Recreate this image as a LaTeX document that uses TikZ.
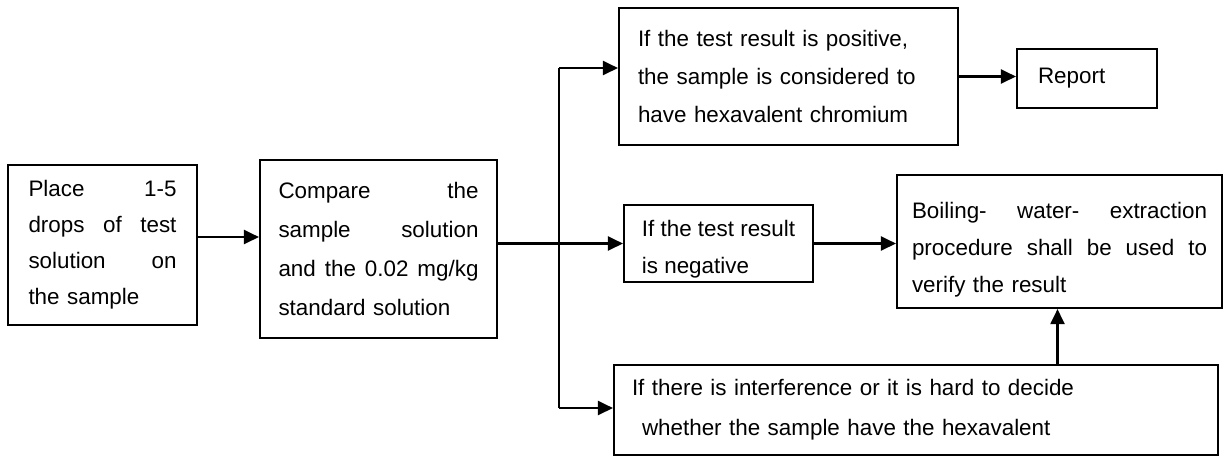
\documentclass[tikz,border=0pt]{standalone}
\usepackage{fontspec}
\setmainfont{Liberation Sans}
\usepackage{tikz}
\usetikzlibrary{arrows.meta}

\begin{document}
\begin{tikzpicture}[x=0.5pt, y=-0.5pt,
  box/.style={rectangle, draw, line width=1.05pt, inner sep=0pt,
    font=\fontsize{11.2}{19}\selectfont},
  arr/.style={-{Triangle[length=7.5pt, width=7pt]}, line width=1.05pt}]
\useasboundingbox (0,0) rectangle (1225,457);

\node[box, minimum width=94.5pt, minimum height=80pt, text width=74pt, align=left,
  font=\fontsize{11.2}{18}\selectfont] (place) at (102.5,245)
  {Place\hfill 1-5\\ drops\hfill of\hfill test\\ solution\hfill on\\ the sample};
\node[box, minimum width=118.5pt, minimum height=89pt, text width=100pt, align=left,
  font=\fontsize{11.2}{19.5}\selectfont] (comp) at (378.5,249)
  {Compare\hfill the\\ sample\hfill solution\\ and\hfill the\hfill 0.02\hfill mg/kg\\ standard solution};
\node[box, minimum width=169.5pt, minimum height=68.5pt, text width=150.5pt, align=left] (pos) at (788.5,76.5)
  {If the test result is positive,\\ the sample is considered to\\ have hexavalent chromium};
\node[box, minimum width=70pt, minimum height=29.5pt, text width=49pt, align=left] (rep) at (1087,78.5)
  {Report};
\node[box, minimum width=94.5pt, minimum height=38.5pt, align=left,
  font=\fontsize{11.2}{18.5}\selectfont] (neg) at (718.5,243.5)
  {\rule{0pt}{14pt}If the test result\\ is negative};
\node[box, minimum width=162.5pt, minimum height=66.5pt, text width=147.5pt, align=left,
  font=\fontsize{11.2}{18.5}\selectfont] (boil) at (1059.5,241.5)
  {\rule{0pt}{16pt}Boiling-\hfill water-\hfill extraction\\ procedure\hfill shall\hfill be\hfill used\hfill to\\ verify the result};
\node[box, minimum width=302pt, minimum height=45pt, text width=284pt, align=left,
  font=\fontsize{11.2}{20}\selectfont] (intf) at (916,410)
  {If there is interference or it is hard to decide\\ \hspace*{5pt}whether the sample have the hexavalent};

\coordinate (top) at (559,68);
\coordinate (bot) at (559,408);

\draw[arr] ([yshift=4pt]place.east) -- ([yshift=4pt]place.east -| comp.west);
\draw[arr] (neg.west -| comp.east) -- (neg.west);
\draw[line width=1.05pt] (top) -- (bot);
\draw[arr] (top) -- (top -| pos.west);
\draw[arr] (bot) -- (bot -| intf.west);
\draw[arr] (pos.east) -- (pos.east -| rep.west);
\draw[arr] (neg.east) -- (neg.east -| boil.west);
\draw[arr] ([xshift=-1pt]boil.south |- intf.north) -- ([xshift=-1pt]boil.south);

\end{tikzpicture}
\end{document}
